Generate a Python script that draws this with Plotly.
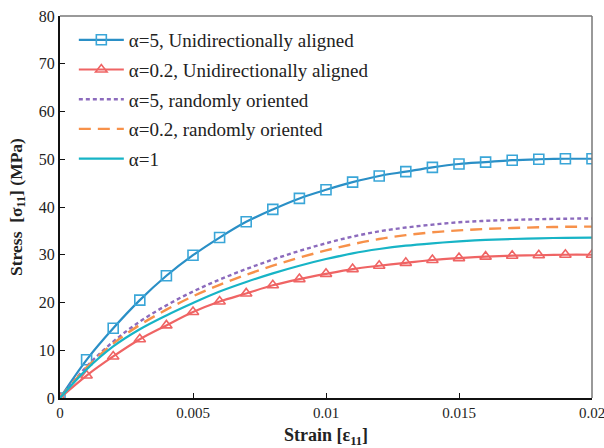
import plotly.graph_objects as go

strain = [0, 0.001, 0.002, 0.003, 0.004, 0.005, 0.006, 0.007, 0.008, 0.009, 0.010,
          0.011, 0.012, 0.013, 0.014, 0.015, 0.016, 0.017, 0.018, 0.019, 0.020]

a5_ud = [0, 8.0, 14.6, 20.5, 25.6, 29.9, 33.6, 36.9, 39.5, 41.8, 43.6,
         45.2, 46.5, 47.4, 48.3, 49.0, 49.4, 49.8, 50.0, 50.1, 50.1]
a02_ud = [0, 4.7, 8.7, 12.3, 15.2, 18.0, 20.2, 21.9, 23.6, 24.9, 26.0,
          27.0, 27.7, 28.3, 28.9, 29.3, 29.6, 29.8, 29.9, 30.0, 30.0]
a5_rand = [0, 6.6, 11.8, 16.0, 19.4, 22.3, 24.8, 27.0, 29.0, 30.8, 32.4,
           33.8, 34.9, 35.7, 36.3, 36.8, 37.1, 37.3, 37.45, 37.55, 37.6]
a02_rand = [0, 6.4, 11.4, 15.3, 18.5, 21.3, 23.7, 25.8, 27.7, 29.4, 30.9,
            32.2, 33.3, 34.1, 34.7, 35.1, 35.4, 35.6, 35.75, 35.85, 35.9]
a1 = [0, 6.0, 10.8, 14.4, 17.3, 19.9, 22.3, 24.3, 26.1, 27.7, 29.1,
      30.3, 31.2, 31.9, 32.4, 32.8, 33.1, 33.3, 33.45, 33.55, 33.6]

x_ticks = [0, 0.005, 0.01, 0.015, 0.02]
x_labels = ["0", "0.005", "0.01", "0.015", "0.02"]
y_ticks = [0, 10, 20, 30, 40, 50, 60, 70, 80]

FONT = "Times New Roman"

fig = go.Figure()
fig.add_trace(go.Scatter(
    x=strain, y=a5_ud, mode="lines+markers", name="α=5, Unidirectionally aligned",
    legendgroup="g1",
    line=dict(color="#2a8fc6", width=2.2, shape="spline"),
    marker=dict(symbol="square-open", size=10, color="#3aa6d8", line=dict(width=1.6))))
fig.add_trace(go.Scatter(
    x=strain, y=a02_ud, mode="lines+markers", name="α=0.2, Unidirectionally aligned",
    legendgroup="g2",
    line=dict(color="#ef6464", width=2.2, shape="spline"),
    marker=dict(symbol="triangle-up-open", size=10, color="#ef6464", line=dict(width=1.6))))
fig.add_trace(go.Scatter(
    x=strain, y=a5_rand, mode="lines", name="α=5, randomly oriented",
    legendgroup="g3",
    line=dict(color="#8c6bbd", width=2.4, dash="4px,3px", shape="spline")))
fig.add_trace(go.Scatter(
    x=strain, y=a02_rand, mode="lines", name="α=0.2, randomly oriented",
    legendgroup="g4",
    line=dict(color="#f7914a", width=2.4, dash="12px,7px", shape="spline")))
fig.add_trace(go.Scatter(
    x=strain, y=a1, mode="lines", name="α=1",
    legendgroup="g5",
    line=dict(color="#17b4c6", width=2.2, shape="spline")))

# top and right frame lines (thin gray)
fig.add_shape(type="line", xref="paper", yref="paper", x0=0, x1=1, y0=1, y1=1,
              line=dict(color="#777777", width=1.5))
fig.add_shape(type="line", xref="paper", yref="paper", x0=1, x1=1, y0=0, y1=1,
              line=dict(color="#777777", width=1.5))

fig.update_layout(
    width=604, height=448,
    margin=dict(l=60, r=12, t=16, b=50, autoexpand=False),
    paper_bgcolor="white", plot_bgcolor="white",
    font=dict(family=FONT, size=16, color="#222222"),
    showlegend=True,
    legend=dict(x=0.026, y=0.987, xanchor="left", yanchor="top",
                bgcolor="rgba(255,255,255,0)", borderwidth=0,
                font=dict(family=FONT, size=19, color="#222222"),
                itemwidth=45, tracegroupgap=2),
    xaxis=dict(range=[0, 0.02], tickvals=x_ticks, ticktext=x_labels,
               ticklabeloverflow="allow", automargin=False,
               showgrid=False, zeroline=False, showline=True, linecolor="#111111",
               linewidth=2, ticks="inside", ticklen=5, tickwidth=1, tickcolor="#111111",
               tickfont=dict(family=FONT, size=15),
               title=dict(text="<b>Strain [ε<sub>11</sub>]</b>", font=dict(family=FONT, size=18), standoff=9)),
    yaxis=dict(range=[0, 80], tickvals=y_ticks, automargin=False,
               showgrid=False, zeroline=False, showline=True, linecolor="#111111",
               linewidth=2, ticks="inside", ticklen=5, tickwidth=1, tickcolor="#111111",
               tickfont=dict(family=FONT, size=16),
               title=dict(text="<b>Stress  [σ<sub>11</sub>] (MPa)</b>", font=dict(family=FONT, size=17.5), standoff=12)),
)

fig.write_html("out.html")
